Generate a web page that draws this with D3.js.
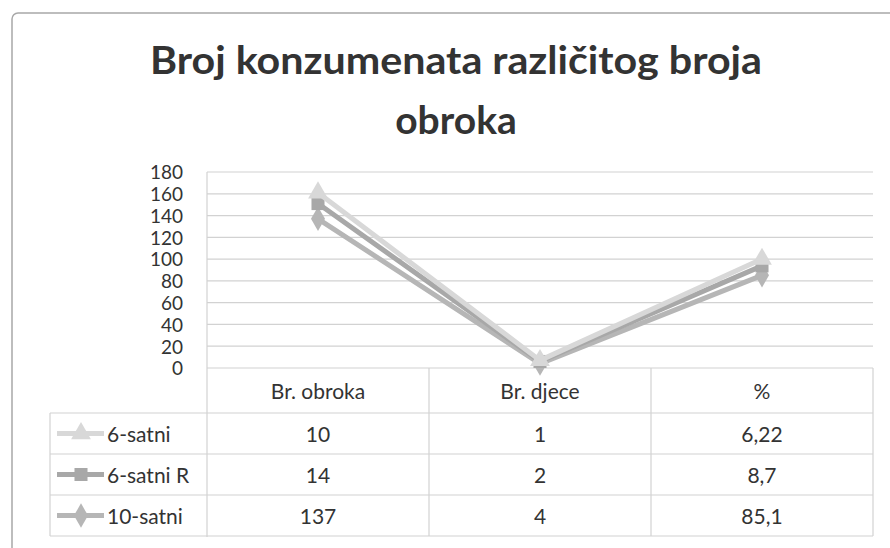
<!DOCTYPE html>
<html>
<head>
<meta charset="utf-8">
<script src="https://d3js.org/d3.v7.min.js"></script>
<style>
  body { margin: 0; background: #fff; }
  text { font-family: Lato, "Open Sans", sans-serif; fill: #333; }
</style>
</head>
<body>
<svg width="890" height="548"></svg>
<script>
// data (stacked line chart, values as in the table)
const categories = ['Br. obroka', 'Br. djece', '%'];
const seriesNames = ['6-satni', '6-satni R', '10-satni'];
const v6 = [10, 1, 6.22];
const v6R = [14, 2, 8.7];
const v10 = [137, 4, 85.1];
const tableLabels = [['10', '1', '6,22'], ['14', '2', '8,7'], ['137', '4', '85,1']];
const yTicks = [0, 20, 40, 60, 80, 100, 120, 140, 160, 180];

const seriesVals = [v6, v6R, v10];
const colors = ['#d8d8d8', '#a8a8a8', '#b6b6b6'];
const markers = [d3.symbolTriangle, d3.symbolSquare, d3.symbolDiamond];

const svg = d3.select('svg');

// chart frame
svg.append('rect')
  .attr('x', 12).attr('y', 13).attr('width', 900).attr('height', 560)
  .attr('rx', 6).attr('fill', 'none').attr('stroke', '#a8a8a8').attr('stroke-width', 1.5);

// title
const title = svg.append('text')
  .attr('text-anchor', 'middle')
  .style('font-weight', 'bold').style('font-size', '39px').style('fill', '#333');
title.append('tspan').attr('x', 456).attr('y', 74)
  .attr('textLength', 612).attr('lengthAdjust', 'spacingAndGlyphs')
  .text('Broj konzumenata različitog broja');
title.append('tspan').attr('x', 456).attr('y', 134).text('obroka');

const x = d3.scaleBand().domain(categories).range([207, 873]);
const y = d3.scaleLinear().domain([0, 180]).range([368, 172]);

// gridlines
svg.append('g').selectAll('line').data(yTicks).join('line')
  .attr('x1', 207).attr('x2', 873)
  .attr('y1', d => y(d)).attr('y2', d => y(d))
  .attr('stroke', '#d2d2d2').attr('stroke-width', 1.2);

svg.append('line').attr('x1', 207).attr('x2', 207).attr('y1', y(180)).attr('y2', 537)
  .attr('stroke', '#d2d2d2').attr('stroke-width', 1.2);

// y axis labels
const yAxis = d3.axisLeft(y).tickValues(yTicks).tickSize(0).tickPadding(0);
const yG = svg.append('g').attr('transform', 'translate(183,0)').call(yAxis);
yG.select('.domain').remove();
yG.selectAll('text').style('font-size', '19px').style('font-family', 'Lato, sans-serif')
  .attr('fill', '#333').attr('dy', '0.36em');

// stacked series
const stackedRows = categories.map((c, i) => {
  const row = { cat: c };
  seriesNames.forEach((s, k) => row[s] = seriesVals[k][i]);
  return row;
});
const stack = d3.stack().keys(['10-satni', '6-satni R', '6-satni']);
const stacked = stack(stackedRows);
const stackByName = {};
stacked.forEach(s => stackByName[s.key] = s);

const line = d3.line()
  .x(d => x(d.data.cat) + x.bandwidth() / 2)
  .y(d => y(d[1]));

const drawOrder = ['10-satni', '6-satni R', '6-satni'];
drawOrder.forEach(name => {
  const k = seriesNames.indexOf(name);
  const s = stackByName[name];
  svg.append('path').datum(s).attr('d', line)
    .attr('fill', 'none').attr('stroke', colors[k]).attr('stroke-width', 5)
    .attr('stroke-linejoin', 'round');
  svg.append('g').selectAll('path').data(s).join('path')
    .attr('transform', d => `translate(${x(d.data.cat) + x.bandwidth() / 2},${y(d[1])})`)
    .attr('d', d3.symbol().type(markers[k]).size(170))
    .attr('fill', colors[k]);
});

// data table
const rowY = [368, 413, 454, 495, 536];
const tableG = svg.append('g');
// horizontal lines
tableG.selectAll('line.h').data(rowY.slice(1)).join('line')
  .attr('x1', 50).attr('x2', 873).attr('y1', d => d).attr('y2', d => d)
  .attr('stroke', '#d2d2d2').attr('stroke-width', 1.2);
// vertical lines
const colEdges = categories.map(c => x(c)).concat([873]);
tableG.selectAll('line.v').data(colEdges.slice(1)).join('line')
  .attr('x1', d => d).attr('x2', d => d).attr('y1', 368).attr('y2', 536)
  .attr('stroke', '#d2d2d2').attr('stroke-width', 1.2);
tableG.append('line').attr('x1', 50).attr('x2', 50).attr('y1', 413).attr('y2', 536)
  .attr('stroke', '#d2d2d2').attr('stroke-width', 1.2);

// header
tableG.selectAll('text.hdr').data(categories).join('text')
  .attr('x', d => x(d) + x.bandwidth() / 2).attr('y', 399)
  .attr('text-anchor', 'middle').style('font-size', '21px').text(d => d);

// rows
seriesNames.forEach((name, k) => {
  const cy = (rowY[k + 1] + rowY[k + 2]) / 2;
  tableG.selectAll('text.r' + k).data(tableLabels[k]).join('text')
    .attr('x', (d, i) => x(categories[i]) + x.bandwidth() / 2).attr('y', cy + 8)
    .attr('text-anchor', 'middle').style('font-size', '21px').text(d => d);
  // legend key
  tableG.append('line').attr('x1', 57).attr('x2', 104).attr('y1', cy).attr('y2', cy)
    .attr('stroke', colors[k]).attr('stroke-width', 5);
  tableG.append('path').attr('transform', `translate(81,${cy})`)
    .attr('d', d3.symbol().type(markers[k]).size(170)).attr('fill', colors[k]);
  tableG.append('text').attr('x', 107).attr('y', cy + 8)
    .style('font-size', '21px').text(name);
});
</script>
</body>
</html>
